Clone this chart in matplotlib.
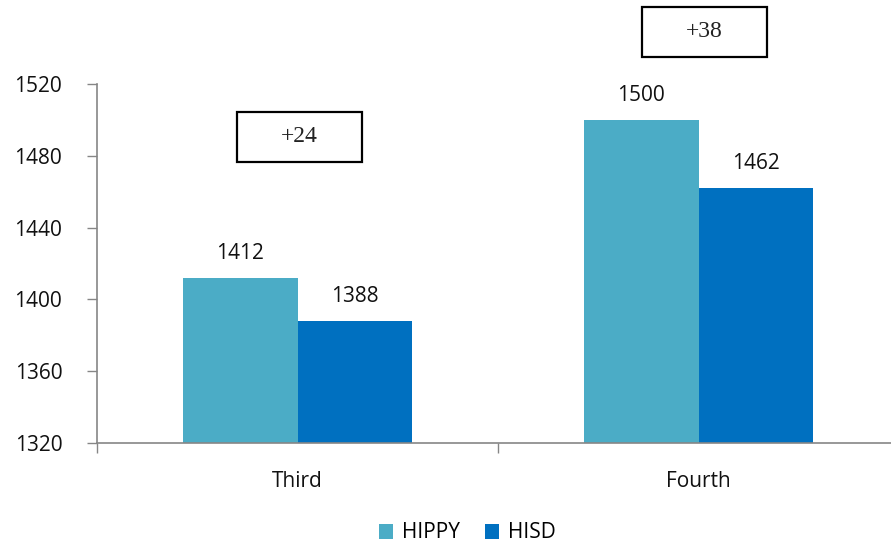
import matplotlib
matplotlib.use("Agg")
import matplotlib.pyplot as plt
from matplotlib.patches import Rectangle
import numpy as np

categories = ["Third", "Fourth"]
hippy = [1412, 1500]
hisd = [1388, 1462]
series_names = ["HIPPY", "HISD"]
y_ticks = [1320, 1360, 1400, 1440, 1480, 1520]

plt.rcParams["font.family"] = ["Open Sans", "DejaVu Sans"]

c_hippy = "#4BACC6"
c_hisd = "#0070C0"
axis_gray = "#868686"
fs = 15

fig = plt.figure(figsize=(8.91, 5.48), dpi=100)
ax = fig.add_axes([97 / 891, 1 - 443 / 548, 802 / 891, 359 / 548])

x = np.arange(len(categories))
w = 0.286
b1 = ax.bar(x - w / 2, hippy, w, color=c_hippy, label=series_names[0])
b2 = ax.bar(x + w / 2, hisd, w, color=c_hisd, label=series_names[1])

ax.set_ylim(1320, 1520)
ax.set_xlim(-0.5, 1.5)
ax.set_yticks(y_ticks)
ax.set_yticklabels([str(t) for t in y_ticks], fontsize=fs, color="#111111")

ax.set_xticks(x)
ax.set_xticklabels(categories, fontsize=fs, color="#111111")
ax.set_xticks([-0.5, 0.5, 1.5], minor=True)
ax.tick_params(axis="x", which="major", length=0, pad=20)
ax.tick_params(axis="x", which="minor", length=7, color=axis_gray, width=1)
ax.tick_params(axis="y", length=7, color=axis_gray, width=1, pad=18)

for s in ["top", "right"]:
    ax.spines[s].set_visible(False)
for s in ["left", "bottom"]:
    ax.spines[s].set_color(axis_gray)
    ax.spines[s].set_linewidth(1.2)

# value labels above bars
for bars, vals in ((b1, hippy), (b2, hisd)):
    for bar, v in zip(bars, vals):
        ax.annotate(str(v), (bar.get_x() + bar.get_width() / 2, v),
                    xytext=(0, 10), textcoords="offset points",
                    ha="center", va="bottom", fontsize=fs, color="#111111")

# boxed difference labels
box_pos = [(0.005, 1490.5), (1.015, 1549)]
bw, bh = 0.31, 27.9
for i, (cx, cy) in enumerate(box_pos):
    diff = hippy[i] - hisd[i]
    rect = Rectangle((cx - bw / 2, cy - bh / 2), bw, bh, fill=True,
                     facecolor="white", edgecolor="black", linewidth=1.6,
                     clip_on=False, zorder=5)
    ax.add_patch(rect)
    ax.text(cx, cy, f"+{diff}", ha="center", va="center",
            fontsize=17, family="Liberation Serif", color="#222222",
            zorder=6, clip_on=False)

leg = fig.legend(loc="center", bbox_to_anchor=(467 / 891, 1 - 533 / 548),
                 ncol=2, frameon=False, fontsize=fs, handlelength=0.7,
                 handleheight=0.7, handletextpad=0.4, columnspacing=1.2)

fig.savefig("out.png", dpi=100)
